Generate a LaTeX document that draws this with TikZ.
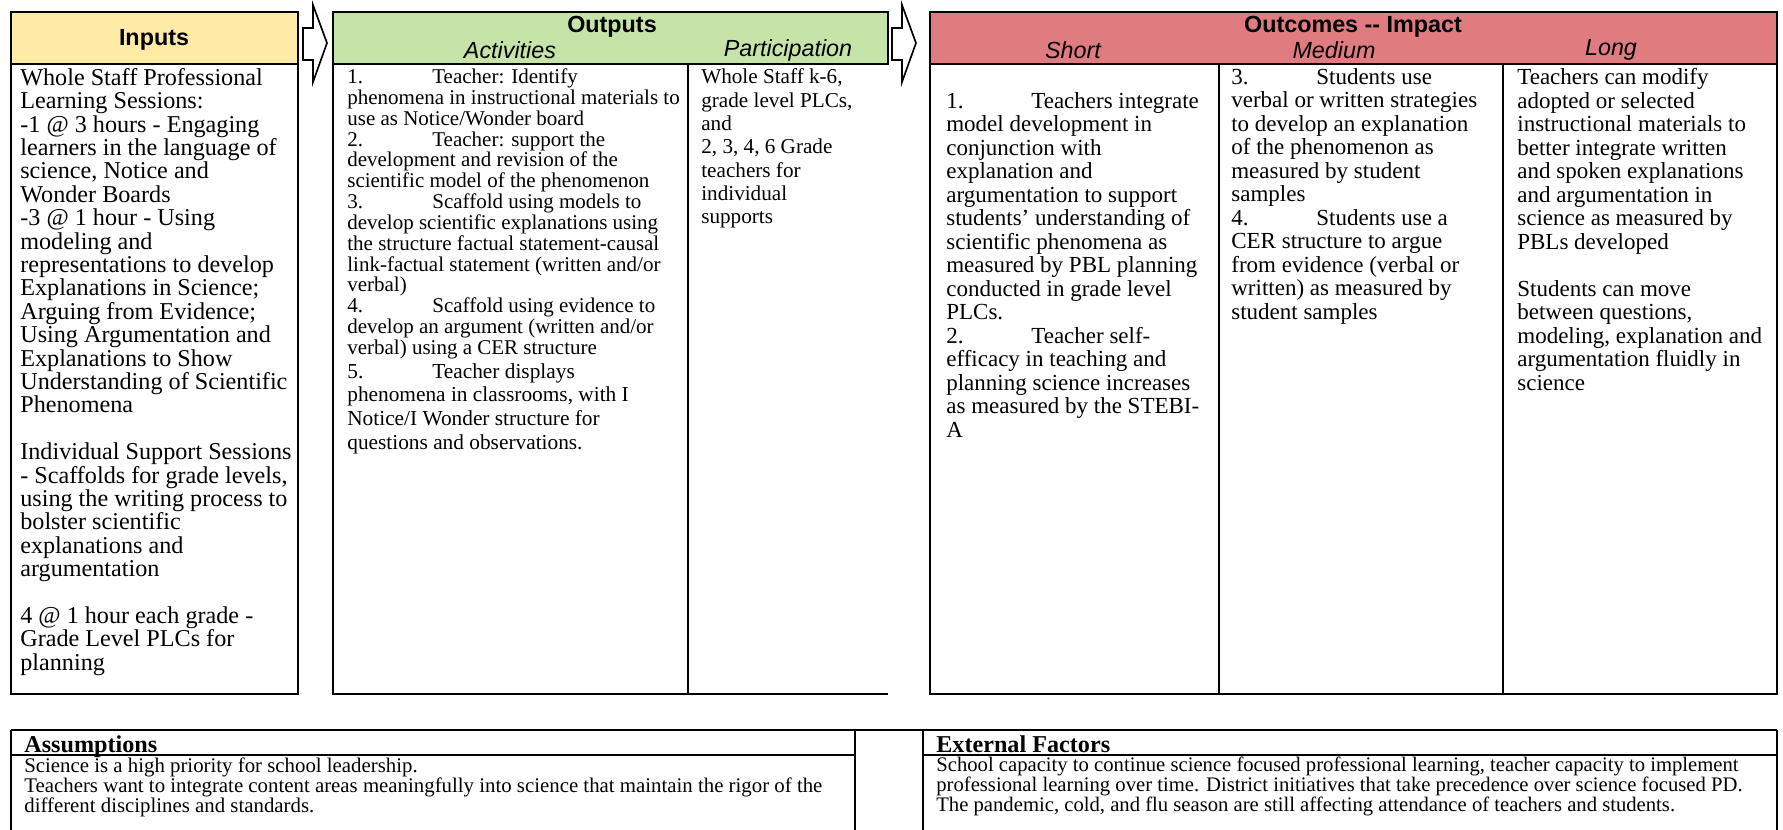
\documentclass[tikz,border=0pt]{standalone}
\usepackage{fontspec}
\setmainfont{Liberation Serif}
\newfontfamily\hdrfont{Liberation Sans}
\definecolor{inyellow}{HTML}{FFEBA6}
\definecolor{outgreen}{HTML}{C6E3A8}
\definecolor{outcred}{HTML}{E07B80}
% number followed by a tab
\newcommand{\itemno}[1]{\makebox[51pt][l]{#1}}
\tikzset{
  box/.style={draw=black, line width=1.2pt},
  hdr/.style={font=\hdrfont\bfseries\fontsize{14}{16}\selectfont, inner sep=0pt},
  sub/.style={font=\hdrfont\itshape\fontsize{14}{16}\selectfont, inner sep=0pt},
  txt/.style={anchor=north west, align=left, inner sep=0pt},
  blockarrow/.style={draw=black, line width=1pt, fill=white},
}
\begin{document}
\begin{tikzpicture}[x=0.6pt, y=-0.6pt]
    \useasboundingbox (0,0) rectangle (1783,829);
    \clip (0,0) rectangle (1783,829);

    % upper boxes
    \draw[box, fill=inyellow] (11,12) rectangle (298,64);
    \draw[box] (11,64) rectangle (298,694);
    \draw[box, fill=outgreen] (333,12) rectangle (888,64);
    \draw[box] (333,64) -- (333,694) -- (888,694) (688,64) -- (688,694);
    \draw[box, fill=outcred] (930,12) rectangle (1777,64);
    \draw[box] (930,64) rectangle (1777,694);
    \foreach \x in {1219,1503}
        \draw[box] (\x,64) -- (\x,694);

    % block arrows
    \foreach \x in {303,892}
        \draw[blockarrow] (\x,28) -- (\x+10,28) -- (\x+10,5) -- (\x+24,43)
            -- (\x+10,82) -- (\x+10,60) -- (\x,60) -- cycle;

    % lower table
    \draw[box] (11,730) -- (1777,730) (11,755) -- (855,755) (923,755) -- (1777,755);
    \foreach \x in {11,855,923,1777}
        \draw[box] (\x,730) -- (\x,850);

    % headers
    \node[hdr] (inputs) at (154,40) {Inputs};
    \node[hdr] (outputs) at (612,27) {Outputs};
    \node[sub] (activities) at (510,50) {Activities};
    \node[sub] (particip) at (788,50) {Participation};
    \node[hdr] (outcomes) at (1353,27) {Outcomes -{}- Impact};
    \node[sub] (short) at (1073,50) {Short};
    \node[sub] (medium) at (1334,50) {Medium};
    \node[sub] (long) at (1611,50) {Long};

    % column texts
    \node[txt, font=\fontsize{14.5}{14.04}\selectfont] (intext) at (20,68) {Whole Staff Professional\\
        Learning Sessions:\\ -1 @ 3 hours - Engaging\\ learners in the language of\\
        science, Notice and\\ Wonder Boards\\ -3 @ 1 hour - Using\\ modeling and\\
        representations to develop\\ Explanations in Science;\\ Arguing from Evidence;\\
        Using Argumentation and\\ Explanations to Show\\ Understanding of Scientific\\
        Phenomena\\ \\ Individual Support Sessions\\ - Scaffolds for grade levels,\\
        using the writing process to\\ bolster scientific\\ explanations and\\
        argumentation\\ \\ 4 @ 1 hour each grade -\\ Grade Level PLCs for\\ planning};
    \node[txt, font=\fontsize{12.6}{12.5}\selectfont] (acttext) at (347,68.5) {\itemno{1.}Teacher: Identify\\
        phenomena in instructional materials to\\ use as Notice/Wonder board\\
        \itemno{2.}Teacher: support the\\ development and revision of the\\
        scientific model of the phenomenon\\ \itemno{3.}Scaffold using models to\\
        develop scientific explanations using\\ the structure factual statement-causal\\
        link-factual statement (written and/or\\ verbal)\\
        \itemno{4.}Scaffold using evidence to\\ develop an argument (written and/or\\
        verbal) using a CER structure};
    \node[txt, font=\fontsize{12.8}{14.3}\selectfont] (acttext5) at (347,363) {\itemno{5.}Teacher displays\\
        phenomena in classrooms, with I\\ Notice/I Wonder structure for\\
        questions and observations.};
    \node[txt, font=\fontsize{12.7}{14}\selectfont] (parttext) at (701,68.5) {Whole Staff k-6,\\
        grade level PLCs,\\ and\\ 2, 3, 4, 6 Grade\\ teachers for\\ individual\\ supports};
    \node[txt, font=\fontsize{13.8}{14.1}\selectfont] (shorttext) at (946,92) {\itemno{1.}Teachers integrate\\
        model development in\\ conjunction with\\ explanation and\\
        argumentation to support\\ students’ understanding of\\ scientific phenomena as\\
        measured by PBL planning\\ conducted in grade level\\ PLCs.\\
        \itemno{2.}Teacher self-\\ efficacy in teaching and\\ planning science increases\\
        as measured by the STEBI-\\ A};
    \node[txt, font=\fontsize{13.8}{14.1}\selectfont] (medtext) at (1231,68) {\itemno{3.}Students use\\
        verbal or written strategies\\ to develop an explanation\\ of the phenomenon as\\
        measured by student\\ samples\\ \itemno{4.}Students use a\\ CER structure to argue\\
        from evidence (verbal or\\ written) as measured by\\ student samples};
    \node[txt, font=\fontsize{13.8}{14.1}\selectfont] (longtext) at (1517,68) {Teachers can modify\\
        adopted or selected\\ instructional materials to\\ better integrate written\\
        and spoken explanations\\ and argumentation in\\ science as measured by\\
        PBLs developed\\ \\ Students can move\\ between questions,\\
        modeling, explanation and\\ argumentation fluidly in\\ science};

    % lower texts
    \node[txt, font=\bfseries\fontsize{14.5}{16}\selectfont] (assump) at (24,735) {Assumptions};
    \node[txt, font=\fontsize{12.5}{12}\selectfont] (assumptext) at (24,757) {Science is a high priority for school leadership.\\
        Teachers want to integrate content areas meaningfully into science that maintain the rigor of the\\
        different disciplines and standards.};
    \node[txt, font=\bfseries\fontsize{14.5}{16}\selectfont] (extern) at (936,735) {External Factors};
    \node[txt, font=\fontsize{12.4}{12}\selectfont] (externtext) at (936,757) {School capacity to continue science focused professional learning, teacher capacity to implement\\
        professional learning over time. District initiatives that take precedence over science focused PD.\\
        The pandemic, cold, and flu season are still affecting attendance of teachers and students.};
\end{tikzpicture}
\end{document}
